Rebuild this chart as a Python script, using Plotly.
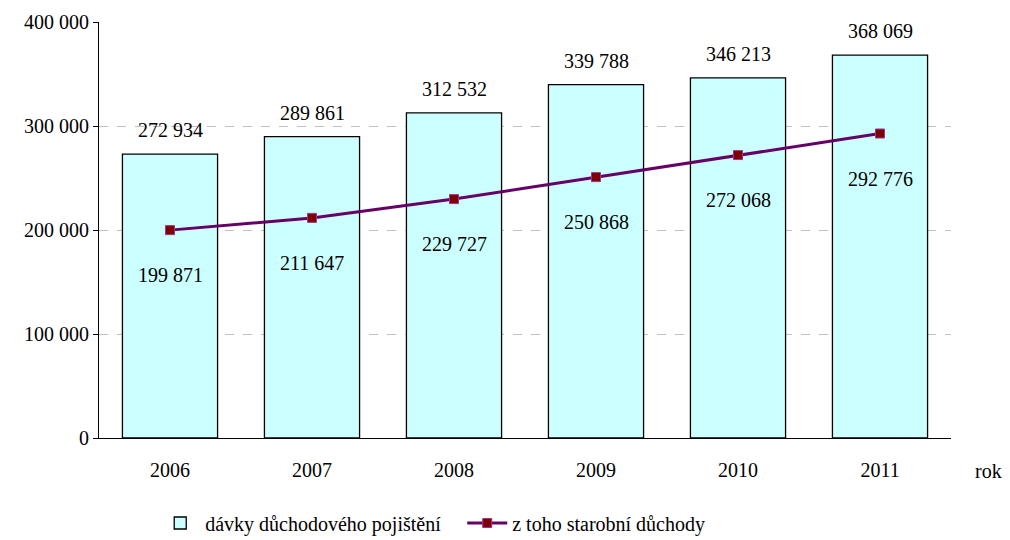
import plotly.graph_objects as go

years = ["2006", "2007", "2008", "2009", "2010", "2011"]
benefits = [272934, 289861, 312532, 339788, 346213, 368069]
old_age = [199871, 211647, 229727, 250868, 272068, 292776]
name_bar = "dávky důchodového pojištění"
name_line = "z toho starobní důchody"

def fmt(v):
    return f"{v:,}".replace(",", " ")

FONT = "Liberation Serif"
F = dict(family=FONT, size=20, color="black")

fig = go.Figure()
fig.add_trace(go.Bar(
    x=years, y=benefits, name=name_bar,
    marker=dict(color="#CCFFFF", line=dict(color="black", width=1.3)),
    width=0.67,
))
fig.add_trace(go.Scatter(
    x=years, y=old_age, name=name_line, mode="lines+markers",
    line=dict(color="#660066", width=3),
    marker=dict(symbol="square", size=9, color="#800000",
                line=dict(color="#993399", width=1)),
))

# on a category axis, annotation x is the category's serial number
for i, v in enumerate(benefits):
    fig.add_annotation(x=i, y=v, text=fmt(v), showarrow=False, yshift=24, font=F)
for i, v in enumerate(old_age):
    fig.add_annotation(x=i, y=v, text=fmt(v), showarrow=False, yshift=-45, font=F)

fig.add_annotation(xref="paper", yref="paper", x=1.0, y=0, xanchor="left",
                   yanchor="top", xshift=22, yshift=-20, text="rok",
                   showarrow=False, font=F)

fig.update_layout(
    width=1010, height=540,
    margin=dict(l=99, r=59, t=22, b=102, autoexpand=False),
    plot_bgcolor="white", paper_bgcolor="white",
    separators=". ",
    font=F,
    showlegend=True,
    legend=dict(orientation="h", x=0.066, xanchor="left",
                yref="container", y=1 - 523 / 540, yanchor="middle",
                font=F, entrywidth=252, itemwidth=40),
    xaxis=dict(type="category", showline=True, linecolor="black", linewidth=1,
               ticks="", showgrid=False, tickfont=F, ticklabelstandoff=14),
    yaxis=dict(range=[0, 400000], dtick=100000, tickformat=",d",
               showline=True, linecolor="black", linewidth=1,
               ticks="outside", ticklen=5, tickcolor="black", tickfont=F,
               showgrid=True, gridcolor="#C0C0C0", griddash="dash", gridwidth=1,
               zeroline=False),
)

fig.write_html("out.html", config={"displayModeBar": False},
               post_script="document.body.style.margin='0';")
